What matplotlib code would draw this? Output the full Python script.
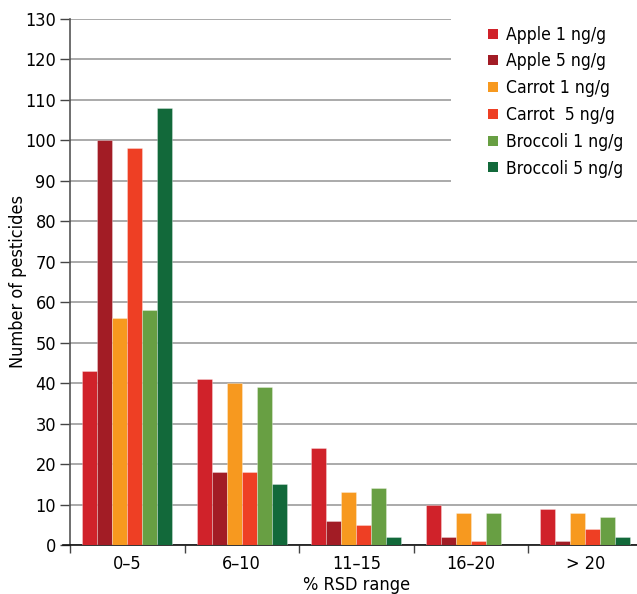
import matplotlib
matplotlib.use("Agg")
import matplotlib.pyplot as plt
from matplotlib.lines import Line2D
from matplotlib.patches import Rectangle
import numpy as np

plt.rcParams['font.family'] = ['DejaVu Sans']
plt.rcParams['font.stretch'] = 'condensed'

categories = ["0\u20135", "6\u201310", "11\u201315", "16\u201320", "> 20"]
series_names = ["Apple 1 ng/g", "Apple 5 ng/g", "Carrot 1 ng/g", "Carrot  5 ng/g",
                "Broccoli 1 ng/g", "Broccoli 5 ng/g"]
apple_1 = [43, 41, 24, 10, 9]
apple_5 = [100, 18, 6, 2, 1]
carrot_1 = [56, 40, 13, 8, 8]
carrot_5 = [98, 18, 5, 1, 4]
broccoli_1 = [58, 39, 14, 8, 7]
broccoli_5 = [108, 15, 2, 0, 2]
series_values = [apple_1, apple_5, carrot_1, carrot_5, broccoli_1, broccoli_5]
colors = ["#d0222a", "#a21c25", "#f7991f", "#ee3f24", "#689f43", "#12693a"]
yticks = list(range(0, 131, 10))

FS = 13
W, H = 637, 594
fig = plt.figure(figsize=(W / 100, H / 100), dpi=100)
left, right_px, top, bottom = 70, 642.5, 19, 545
ax = fig.add_axes([left / W, (H - bottom) / H, (right_px - left) / W, (bottom - top) / H])

x = np.arange(len(categories))
bw = 15 / 114.5
n = len(series_values)
for i, (vals, c, name) in enumerate(zip(series_values, colors, series_names)):
    offs = (i - (n - 1) / 2) * bw
    ax.bar(x + offs, vals, width=bw, color=c, edgecolor=(1, 1, 1, 0.35), linewidth=0.6,
           zorder=3, label=name)

ax.set_xlim(-0.5, len(categories) - 0.5)
ax.set_ylim(0, 130)
ax.set_yticks(yticks)
ax.tick_params(axis='y', length=7, width=1, color='#444444', labelsize=FS, pad=3)
ax.yaxis.grid(True, color='#aaaaaa', linewidth=1.4, zorder=0)
ax.set_axisbelow(True)

ax.set_xticks(np.arange(-0.5, len(categories), 1.0))
ax.set_xticklabels([])
ax.set_xticks(x, minor=True)
ax.set_xticklabels(categories, minor=True, fontsize=FS)
ax.tick_params(axis='x', which='major', length=6, width=1, color='#444444')
ax.tick_params(axis='x', which='minor', length=0, pad=7)

for s in ['top', 'right']:
    ax.spines[s].set_visible(False)
ax.spines['left'].set_color('#555555')
ax.spines['left'].set_linewidth(1.2)
ax.spines['bottom'].set_color('#111111')
ax.spines['bottom'].set_linewidth(1.2)
ax.spines['bottom'].set_bounds(-0.5 - 7 / 114.5, len(categories) - 0.5)

ax.set_ylabel("Number of pesticides", fontsize=FS)
ax.yaxis.set_label_coords((18 - left) / (right_px - left), 0.5)
ax.set_xlabel("% RSD range", fontsize=FS)
ax.xaxis.set_label_coords(0.5, -(585 - bottom) / (bottom - top))
ax.xaxis.label.set_va('center')
ax.yaxis.label.set_va('center')

# white box behind legend
x0 = (451 - left) / (right_px - left)
y0 = (bottom - 185) / (bottom - top)
ax.add_patch(Rectangle((x0, y0), 1.2, 1.2, transform=ax.transAxes, facecolor='white',
                       edgecolor='none', zorder=2, clip_on=False))

handles = [Line2D([], [], marker='s', linestyle='none', markersize=7.5, color=c,
                  markeredgewidth=0) for c in colors]
leg = fig.legend(handles, series_names, loc='upper left',
                 bbox_to_anchor=(477 / W, 1 - 17 / H), frameon=False,
                 fontsize=12.6, handlelength=0.8, handletextpad=0.35,
                 labelspacing=0.5, borderpad=0)
leg.set_zorder(5)

fig.savefig("out.png", dpi=100)
